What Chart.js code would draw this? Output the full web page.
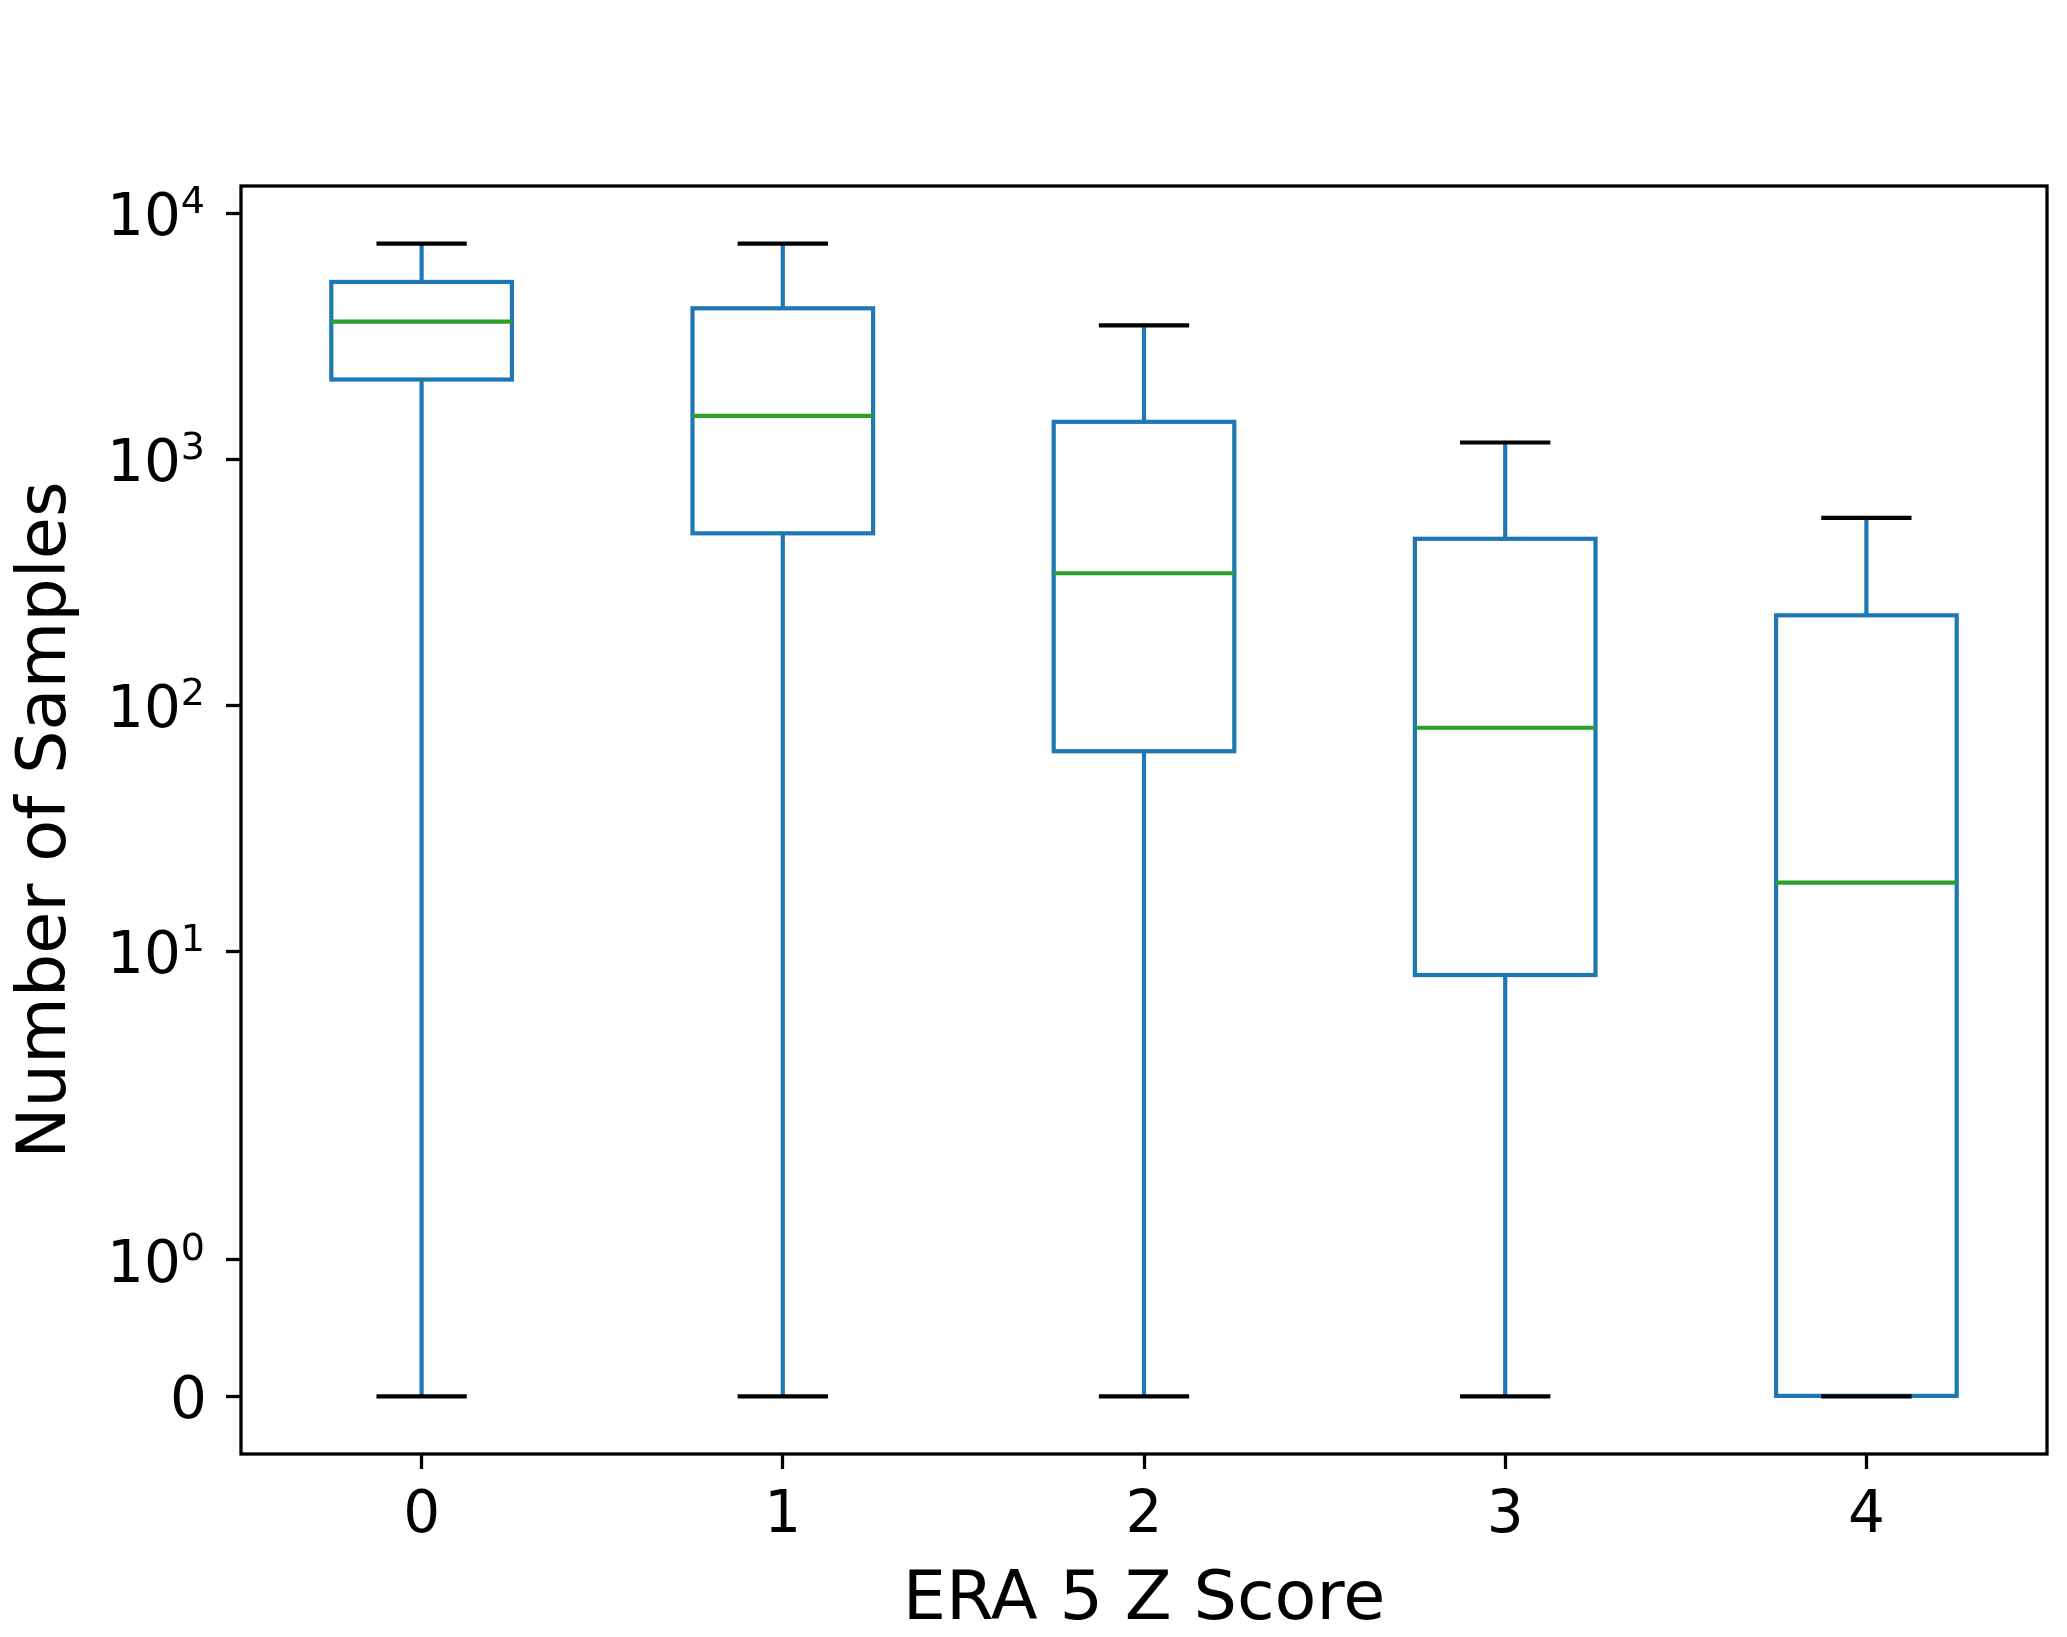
<!DOCTYPE html>
<html><head><meta charset="utf-8">
<script src="https://cdn.jsdelivr.net/npm/chart.js@4.4.1/dist/chart.umd.min.js"></script>
<style>html,body{margin:0;padding:0;background:#fff;} canvas{display:block;}</style>
</head><body>
<canvas id="c" width="2067" height="1637"></canvas>
<script>
// ---- data ----
const categories = ['0', '1', '2', '3', '4'];
const whiskerLow = [0, 0, 0, 0, 0];
const q1 = [2110, 500, 65, 8, 0];
const medians = [3630, 1500, 344, 81, 19];
const q3 = [5260, 4110, 1420, 475, 232];
const whiskerHigh = [7530, 7530, 3500, 1170, 578];
const yTickValues = [0, 1, 10, 100, 1000, 10000];
const xTitle = 'ERA 5 Z Score';
const yTitle = 'Number of Samples';

// ---- symlog transform (linthresh 2, linscale 1, base 10) ----
const LINTHRESH = 2, LINSCALE_ADJ = 1 / (1 - 1 / 10);
function symT(v) {
  const a = Math.abs(v);
  if (a <= LINTHRESH) return v * LINSCALE_ADJ;
  return Math.sign(v) * LINTHRESH * (LINSCALE_ADJ + Math.log10(a / LINTHRESH));
}
function symInv(t) {
  const a = Math.abs(t), lt = LINTHRESH * LINSCALE_ADJ;
  if (a <= lt) return t / LINSCALE_ADJ;
  return Math.sign(t) * LINTHRESH * Math.pow(10, a / LINTHRESH - LINSCALE_ADJ);
}

class SymlogScale extends Chart.LinearScale {
  buildTicks() { return yTickValues.map(v => ({ value: v })); }
  configure() { super.configure(); this._tmin = symT(this.min); this._tmax = symT(this.max); }
  getPixelForValue(v) {
    if (v === null || v === undefined || isNaN(v)) return NaN;
    return this.getPixelForDecimal((symT(v) - this._tmin) / (this._tmax - this._tmin));
  }
  getValueForPixel(p) { return symInv(this._tmin + this.getDecimalForPixel(p) * (this._tmax - this._tmin)); }
}
SymlogScale.id = 'symlog';
SymlogScale.defaults = {};
Chart.register(SymlogScale);

// matplotlib-like 5% margins in transformed space
const tHi = symT(Math.max(...whiskerHigh)), tLo = symT(Math.min(...whiskerLow));
const marg = 0.05 * (tHi - tLo);
const yMin = symInv(tLo - marg), yMax = symInv(tHi + marg);

const FONT = 'DejaVu Sans';
const TICK_FS = 58, TITLE_FS = 68.5, SUP_FS = 38;
const BLUE = '#1f77b4', GREEN = '#2ca02c', LW = 4.2;

const boxParts = {
  id: 'boxParts',
  afterDatasetsDraw(chart) {
    const { ctx, scales: { x, y } } = chart;
    const meta = chart.getDatasetMeta(0);
    const unit = x.getPixelForValue(1) - x.getPixelForValue(0);
    const capHalf = unit * 0.125;
    ctx.save();
    ctx.lineWidth = LW;
    ctx.lineCap = 'butt';
    ctx.lineJoin = 'miter';
    const seg = (x1, y1, x2, y2, c) => { ctx.strokeStyle = c; ctx.beginPath(); ctx.moveTo(x1, y1); ctx.lineTo(x2, y2); ctx.stroke(); };
    categories.forEach((c, i) => {
      const cx = x.getPixelForValue(i);
      const bar = meta.data[i];
      const half = bar.width / 2;
      const top = Math.min(bar.y, bar.base), bot = Math.max(bar.y, bar.base);
      // box
      ctx.strokeStyle = BLUE;
      ctx.strokeRect(bar.x - half, top, 2 * half, bot - top);
      // whiskers
      seg(cx, y.getPixelForValue(q3[i]), cx, y.getPixelForValue(whiskerHigh[i]), BLUE);
      seg(cx, y.getPixelForValue(q1[i]), cx, y.getPixelForValue(whiskerLow[i]), BLUE);
      // median
      const ym = y.getPixelForValue(medians[i]);
      seg(cx - half, ym, cx + half, ym, GREEN);
      // caps
      const yh = y.getPixelForValue(whiskerHigh[i]), yl = y.getPixelForValue(whiskerLow[i]);
      seg(cx - capHalf, yh, cx + capHalf, yh, '#000');
      seg(cx - capHalf, yl, cx + capHalf, yl, '#000');
    });
    ctx.restore();
  },
  afterDraw(chart) {
    const { ctx, chartArea: a, scales: { y } } = chart;
    ctx.save();
    ctx.strokeStyle = '#000';
    ctx.lineWidth = 3.3;
    ctx.strokeRect(a.left, a.top, a.right - a.left, a.bottom - a.top);
    // y tick labels with mathtext-like superscripts
    ctx.fillStyle = '#000';
    ctx.textBaseline = 'alphabetic';
    ctx.textAlign = 'right';
    const xr = a.left - 15 - 21;
    y.ticks.forEach(t => {
      const py = y.getPixelForValue(t.value);
      if (t.value === 0) {
        ctx.font = TICK_FS + 'px "' + FONT + '"';
        ctx.fillText('0', xr + 2, py + 22);
      } else {
        const e = String(Math.round(Math.log10(t.value)));
        ctx.font = SUP_FS + 'px "' + FONT + '"';
        const ew = ctx.measureText(e).width;
        ctx.fillText(e, xr, py);
        ctx.font = TICK_FS + 'px "' + FONT + '"';
        ctx.fillText('10', xr - ew, py + 22);
      }
    });
    ctx.restore();
  }
};

new Chart(document.getElementById('c').getContext('2d'), {
  type: 'bar',
  data: {
    labels: categories,
    datasets: [{
      data: q1.map((v, i) => [v, q3[i]]),
      backgroundColor: 'rgba(0,0,0,0)',
      borderColor: 'rgba(0,0,0,0)',
      borderWidth: 0,
      categoryPercentage: 1,
      barPercentage: 0.5
    }]
  },
  options: {
    responsive: false,
    animation: false,
    devicePixelRatio: 1,
    layout: { padding: { top: 186, right: 20, left: 0, bottom: 0 } },
    plugins: { legend: { display: false }, tooltip: { enabled: false } },
    scales: {
      x: {
        type: 'category',
        offset: true,
        grid: { display: true, offset: false, drawOnChartArea: false, drawTicks: true, tickLength: 15, tickWidth: 3.3, tickColor: '#000' },
        border: { display: false },
        ticks: { color: '#000', font: { family: FONT, size: TICK_FS }, padding: 13, maxRotation: 0 },
        title: { display: true, text: xTitle, color: '#000', font: { family: FONT, size: TITLE_FS, lineHeight: 1.0 }, padding: { top: 0, bottom: 2 } },
        afterFit(s) { s.height = 183; }
      },
      y: {
        type: 'symlog',
        min: yMin,
        max: yMax,
        grid: { display: true, drawOnChartArea: false, drawTicks: true, tickLength: 15, tickWidth: 3.3, tickColor: '#000' },
        border: { display: false },
        ticks: {
          color: 'rgba(0,0,0,0)', font: { family: FONT, size: TICK_FS }, padding: 21,
          callback: (v) => v === 0 ? '0' : '10^' + Math.round(Math.log10(v))
        },
        title: { display: true, text: yTitle, color: '#000', font: { family: FONT, size: TITLE_FS }, padding: { top: 6, bottom: 0 } },
        afterFit(s) { s.width = 241; }
      }
    }
  },
  plugins: [boxParts]
});
</script>
</body></html>
